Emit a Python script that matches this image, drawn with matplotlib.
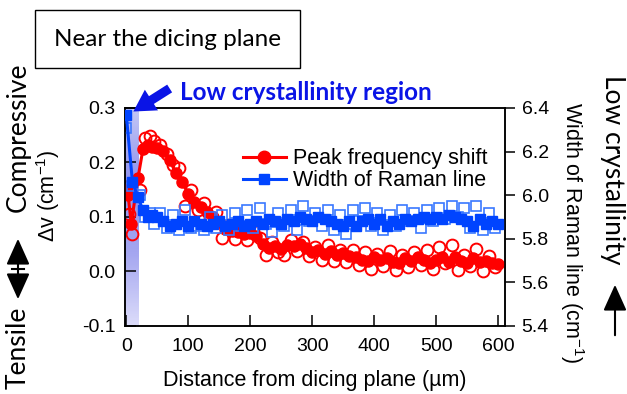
import numpy as np
import matplotlib
matplotlib.use("Agg")
import matplotlib.pyplot as plt
from matplotlib.colors import LinearSegmentedColormap
from matplotlib.lines import Line2D
from matplotlib.patches import Rectangle, FancyArrowPatch

plt.rcParams["font.family"] = ["Liberation Sans", "DejaVu Sans"]
plt.rcParams["font.size"] = 14
plt.rcParams["mathtext.fontset"] = "custom"
plt.rcParams["mathtext.rm"] = "Liberation Sans"
plt.rcParams["mathtext.it"] = "Liberation Sans:italic"
plt.rcParams["axes.unicode_minus"] = False

# --- data ---
# peak frequency shift (left axis, cm^-1), averaged line
x_shift = [0, 3, 8, 19, 27, 35, 42,
           50, 60, 70, 80, 90, 100, 110, 120, 130, 140, 150,
           160, 170, 180, 190, 200, 210, 220, 230, 240, 250,
           260, 270, 280, 290, 300, 310, 320, 330, 340, 350,
           360, 370, 380, 390, 400, 410, 420, 430, 440, 450,
           460, 470, 480, 490, 500, 510, 520, 530, 540, 550,
           560, 570, 580, 590, 600]
shift_avg = [0.150, 0.140, 0.088, 0.172, 0.225, 0.232, 0.228,
             0.226, 0.222, 0.205, 0.180, 0.165, 0.142, 0.128, 0.118, 0.110, 0.100, 0.090,
             0.078, 0.074, 0.072, 0.068, 0.070, 0.066, 0.050, 0.044, 0.046, 0.042,
             0.048, 0.046, 0.050, 0.044, 0.036, 0.040, 0.032, 0.038, 0.030, 0.034,
             0.028, 0.026, 0.022, 0.020, 0.026, 0.022, 0.024, 0.018, 0.016, 0.024,
             0.020, 0.026, 0.022, 0.016, 0.022, 0.026, 0.018, 0.026, 0.020, 0.016,
             0.024, 0.018, 0.020, 0.016, 0.014]

# peak frequency shift, single measurements (open circles)
x_shift_raw = [0, 5, 10, 22, 30, 38, 45,
               55, 65, 75, 85, 95, 105, 115, 125, 135, 145,
               155, 165, 175, 185, 195, 205, 215, 225, 235, 245,
               255, 265, 275, 285, 295, 305, 315, 325, 335, 345,
               355, 365, 375, 385, 395, 405, 415, 425, 435, 445,
               455, 465, 475, 485, 495, 505, 515, 525, 535, 545,
               555, 565, 575, 585, 595]
shift_raw = [0.155, 0.105, 0.068, 0.150, 0.245, 0.248, 0.240,
             0.232, 0.215, 0.196, 0.190, 0.120, 0.150, 0.112, 0.125, 0.098, 0.110,
             0.062, 0.085, 0.060, 0.080, 0.058, 0.075, 0.062, 0.030, 0.055, 0.035,
             0.030, 0.058, 0.038, 0.055, 0.028, 0.045, 0.022, 0.048, 0.020, 0.040,
             0.018, 0.040, 0.012, 0.035, 0.005, 0.032, 0.010, 0.038, 0.002, 0.030,
             0.008, 0.035, 0.012, 0.040, 0.005, 0.045, 0.015, 0.048, 0.002, 0.030,
             0.010, 0.042, 0.000, 0.028, 0.008]

# width of Raman line (right axis, cm^-1), averaged line
x_width = [0, 10, 19, 27, 35, 42,
           50, 60, 70, 80, 90, 100, 110, 120, 130, 140,
           150, 160, 170, 180, 190, 200, 210, 220, 230, 240,
           250, 260, 270, 280, 290, 300, 310, 320, 330, 340,
           350, 360, 370, 380, 390, 400, 410, 420, 430, 440,
           450, 460, 470, 480, 490, 500, 510, 520, 530, 540,
           550, 560, 570, 580, 590, 600]
width_avg = [6.37, 6.06, 5.99, 5.93, 5.90, 5.91,
             5.90, 5.88, 5.86, 5.87, 5.88, 5.86, 5.88, 5.87, 5.86, 5.87,
             5.88, 5.86, 5.87, 5.88, 5.86, 5.87, 5.88, 5.87, 5.89, 5.88,
             5.87, 5.89, 5.88, 5.90, 5.89, 5.88, 5.90, 5.89, 5.88, 5.87,
             5.86, 5.88, 5.86, 5.88, 5.89, 5.87, 5.89, 5.86, 5.88, 5.87,
             5.89, 5.88, 5.89, 5.90, 5.89, 5.90, 5.89, 5.91, 5.90, 5.89,
             5.88, 5.86, 5.89, 5.87, 5.88, 5.87]

# width of Raman line, single measurements (open squares)
x_width_raw = [0, 10, 22, 30, 38, 45,
               55, 65, 75, 85, 95, 105, 115, 125, 135, 145,
               155, 165, 175, 185, 195, 205, 215, 225, 235, 245,
               255, 265, 275, 285, 295, 305, 315, 325, 335, 345,
               355, 365, 375, 385, 395, 405, 415, 425, 435, 445,
               455, 465, 475, 485, 495, 505, 515, 525, 535, 545,
               555, 565, 575, 585, 595]
width_raw = [6.31, 6.04, 6.00, 5.90, 5.92, 5.87,
             5.92, 5.85, 5.91, 5.84, 5.93, 5.85, 5.86, 5.84, 5.90, 5.85,
             5.91, 5.84, 5.92, 5.86, 5.93, 5.85, 5.94, 5.87, 5.83, 5.92,
             5.86, 5.93, 5.84, 5.95, 5.88, 5.92, 5.86, 5.93, 5.84, 5.91,
             5.82, 5.93, 5.88, 5.94, 5.86, 5.92, 5.84, 5.91, 5.86, 5.93,
             5.88, 5.92, 5.85, 5.93, 5.88, 5.94, 5.89, 5.95, 5.90, 5.94,
             5.85, 5.95, 5.84, 5.92, 5.85]

region_end = 19  # low crystallinity region, um

RED = "#ff0000"
BLUE = "#0044ff"
BLUE_OPEN = "#3a78ff"
TEXT_BLUE = "#0a14e6"
CAL = ["Lato", "DejaVu Sans"]

fig = plt.figure(figsize=(6.27, 3.94), dpi=100)
ax = fig.add_axes([0.1994, 0.1726, 0.606, 0.5533])
ax2 = ax.twinx()

# --- shaded low crystallinity region ---
shade = LinearSegmentedColormap.from_list(
    "shade", ["#dcdcfa", "#a4a6f0", "#9092ee", "#c4c8f6"])
grad = np.linspace(0, 1, 200).reshape(-1, 1)
ax.imshow(grad, cmap=shade, origin="lower", aspect="auto",
          extent=(-2, region_end, -0.1, 0.3), zorder=0)

# --- red: peak frequency shift ---
ax.plot(x_shift_raw, shift_raw, "o", ms=8.5, mfc="none", mec=RED, mew=1.4, zorder=2)
ax.plot(x_shift, shift_avg, "-o", color=RED, lw=2.2, ms=8, zorder=3)

# --- blue: width of Raman line ---
ax2.plot(x_width_raw, width_raw, "s", ms=6.5, mfc="none", mec=BLUE_OPEN, mew=1.2, zorder=2)
ax2.plot(x_width, width_avg, "-s", color=BLUE, lw=2.2, ms=6.5, zorder=3)

ax.set_xlim(-2, 611)
ax.set_ylim(-0.1, 0.3)
ax2.set_ylim(5.4, 6.4)
ax.set_xticks([0, 100, 200, 300, 400, 500, 600])
ax.set_yticks([-0.1, 0.0, 0.1, 0.2, 0.3])
ax.set_yticklabels(["-0.1", "0.0", "0.1", "0.2", "0.3"])
ax2.set_yticks([5.4, 5.6, 5.8, 6.0, 6.2, 6.4])
ax2.set_yticklabels(["5.4", "5.6", "5.8", "6.0", "6.2", "6.4"])

for a in (ax, ax2):
    for s in a.spines.values():
        s.set_linewidth(1.1)
ax.tick_params(axis="both", direction="in", length=8, width=1.1, pad=7)
ax.tick_params(axis="x", pad=9)
ax2.tick_params(axis="y", direction="out", length=7, width=1.1, pad=5)

ax.set_xlabel("Distance from dicing plane (µm)", fontsize=15.5)
ax.xaxis.set_label_coords(0.5, -0.2)
ax.set_ylabel(r"Δv (cm$^{-1}$)", fontsize=15.5)
ax.yaxis.set_label_coords(-0.165, 0.6)
ax2.set_ylabel(r"Width of Raman line (cm$^{-1}$)", rotation=-90, va="bottom", fontsize=15.5)
ax2.yaxis.set_label_coords(1.14, 0.43)

handles = [Line2D([], [], color=RED, marker="o", lw=2.2, ms=9),
           Line2D([], [], color=BLUE, marker="s", lw=2.2, ms=7)]
ax2.legend(handles, ["Peak frequency shift", "Width of Raman line"],
           loc="upper left", bbox_to_anchor=(0.31, 0.815), frameon=False,
           handlelength=2.0, handletextpad=0.35, labelspacing=0.05,
           borderpad=0, borderaxespad=0, fontsize=15.5)

# --- annotations in figure space ---
fig.patches.append(Rectangle((35 / 627, 1 - 68 / 394), 265 / 627, 58 / 394,
                             transform=fig.transFigure, fill=False,
                             edgecolor="black", linewidth=1.0))
fig.text(167 / 627, 1 - 40 / 394, "Near the dicing plane", family=CAL,
         fontsize=17.5, ha="center", va="center")

fig.text(180 / 627, 1 - 93 / 394, "Low crystallinity region", family=CAL,
         fontsize=17.5, fontweight="bold", color=TEXT_BLUE, ha="left", va="center")
fig.patches.append(FancyArrowPatch(
    (172 / 627, 1 - 87 / 394), (131 / 627, 1 - 113 / 394),
    transform=fig.transFigure,
    arrowstyle="simple,head_width=1.6,head_length=1.4,tail_width=0.6",
    mutation_scale=11, color=TEXT_BLUE, lw=0))

fig.text(18 / 627, 1 - 137 / 394, "Compressive", family=CAL, fontsize=19,
         rotation=90, ha="center", va="center")
fig.text(18 / 627, 1 - 348 / 394, "Tensile", family=CAL, fontsize=19,
         rotation=90, ha="center", va="center")
fig.patches.append(FancyArrowPatch(
    (18 / 627, 1 - 302 / 394), (18 / 627, 1 - 236 / 394),
    transform=fig.transFigure,
    arrowstyle="<|-|>,head_width=0.45,head_length=1.0",
    mutation_scale=16, color="black", lw=1.5))
fig.add_artist(Line2D([12 / 627, 24 / 627], [1 - 269 / 394, 1 - 269 / 394],
                      transform=fig.transFigure, color="black", lw=1.5))

fig.text(612 / 627, 1 - 170 / 394, "Low crystallinity", family=CAL, fontsize=19,
         rotation=-90, ha="center", va="center")
fig.patches.append(FancyArrowPatch(
    (615 / 627, 1 - 338 / 394), (615 / 627, 1 - 282 / 394),
    transform=fig.transFigure,
    arrowstyle="-|>,head_width=0.45,head_length=1.0",
    mutation_scale=16, color="black", lw=1.5))

fig.savefig("out.png", dpi=100)
